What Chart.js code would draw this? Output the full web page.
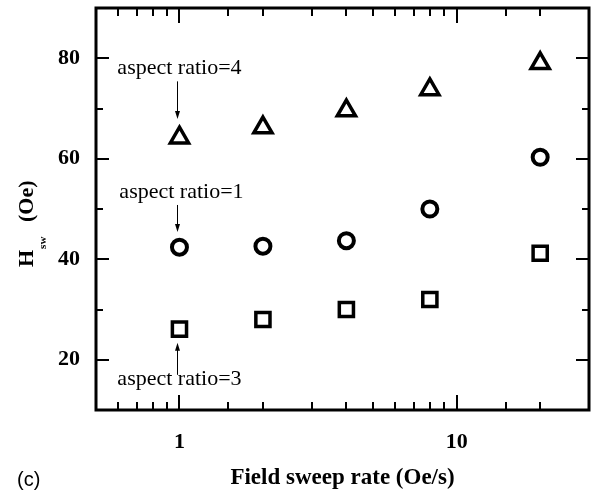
<!DOCTYPE html>
<html>
<head>
<meta charset="utf-8">
<script src="https://cdn.jsdelivr.net/npm/chart.js@4.4.1/dist/chart.umd.min.js"></script>
<style>
  html, body { margin: 0; padding: 0; background: #fff; }
  canvas { display: block; }
</style>
</head>
<body>
<canvas id="chart" width="594" height="491"></canvas>
<script>
// Field sweep rate (Oe/s)
const sweepRates = [1, 2, 4, 8, 20];
// Switching field H_sw (Oe) for each dot shape
const hswRatio4 = [64.2, 66.2, 69.6, 73.8, 79.0];
const hswRatio1 = [42.4, 42.6, 43.7, 50.0, 60.3];
const hswRatio3 = [26.1, 28.0, 30.0, 32.0, 41.2];
const seriesNames = ['aspect ratio=4', 'aspect ratio=1', 'aspect ratio=3'];
const xTickLabels = [1, 10];
const yTickLabels = [20, 40, 60, 80];

const SERIF = '"Liberation Serif", "Times New Roman", Times, serif';
const SANS = '"Liberation Sans", Arial, Helvetica, sans-serif';

const toPoints = ys => sweepRates.map((x, i) => ({ x: x, y: ys[i] }));
const near = (a, b) => Math.abs(a - b) < 1e-9;
const isDecade = v => near(Math.log10(v), Math.round(Math.log10(v)));

// Frame with inward ticks, callouts with arrows, axis titles, panel tag
const decorations = {
  id: 'decorations',
  afterDraw(chart) {
    const ctx = chart.ctx;
    const a = chart.chartArea;
    const xs = chart.scales.x;
    const ys = chart.scales.y;
    ctx.save();
    ctx.strokeStyle = '#000';
    ctx.fillStyle = '#000';
    ctx.lineCap = 'butt';

    const line = (x1, y1, x2, y2) => {
      ctx.beginPath(); ctx.moveTo(x1, y1); ctx.lineTo(x2, y2); ctx.stroke();
    };

    // x ticks, bottom and top
    ctx.lineWidth = 2;
    xs.ticks.forEach(t => {
      const px = Math.round(xs.getPixelForValue(t.value));
      if (px <= a.left + 2 || px >= a.right - 2) return;
      const len = isDecade(t.value) ? 15 : 8;
      line(px, a.bottom, px, a.bottom - len);
      line(px, a.top, px, a.top + len);
    });
    // y ticks, left and right
    ys.ticks.forEach(t => {
      const py = Math.round(ys.getPixelForValue(t.value));
      if (py <= a.top + 2 || py >= a.bottom - 2) return;
      const len = yTickLabels.includes(t.value) ? 13 : 7;
      line(a.left, py, a.left + len, py);
      line(a.right, py, a.right - len, py);
    });

    // frame
    ctx.lineWidth = 3;
    ctx.strokeRect(a.left, a.top, a.right - a.left, a.bottom - a.top);

    // callouts at the 1 Oe/s column: [text baseline, arrow tail, arrow head] in Oe
    const callouts = [
      [76.9, 75.4, 67.9],
      [52.2, 50.8, 45.4],
      [15.0, 17.0, 23.4]
    ];
    const cx = xs.getPixelForValue(1);
    ctx.font = '22px ' + SERIF;
    ctx.textAlign = 'center';
    ctx.textBaseline = 'alphabetic';
    callouts.forEach((c, i) => {
      ctx.fillText(seriesNames[i], cx + (i === 1 ? 2 : 0), ys.getPixelForValue(c[0]));
      const y1 = ys.getPixelForValue(c[1]);
      const y2 = ys.getPixelForValue(c[2]);
      const dir = Math.sign(y2 - y1);
      const ax = Math.round(cx) - 1.5;
      ctx.lineWidth = 1;
      line(ax, y1, ax, y2 - dir * 5);
      ctx.beginPath();
      ctx.moveTo(ax, y2);
      ctx.lineTo(ax - 2.5, y2 - dir * 8);
      ctx.lineTo(ax + 2.5, y2 - dir * 8);
      ctx.closePath();
      ctx.fill();
    });

    // x-axis title
    ctx.font = 'bold 23px ' + SERIF;
    ctx.textAlign = 'center';
    ctx.fillText('Field sweep rate (Oe/s)', (a.left + a.right) / 2, 484);

    // y-axis title: H_sw (Oe), rotated
    ctx.save();
    ctx.translate(a.left - 63, a.bottom - 143);
    ctx.rotate(-Math.PI / 2);
    ctx.textAlign = 'left';
    ctx.textBaseline = 'alphabetic';
    ctx.font = 'bold 22px ' + SERIF;
    ctx.fillText('H', 0, 0);
    const wH = ctx.measureText('H').width;
    ctx.font = 'bold 11px ' + SERIF;
    ctx.fillText('sw', wH + 1, 13);
    ctx.font = 'bold 22px ' + SERIF;
    ctx.fillText('(Oe)', 45, 0);
    ctx.restore();

    // panel tag
    ctx.font = '20px ' + SANS;
    ctx.textAlign = 'left';
    ctx.fillText('(c)', 17, 486);

    ctx.restore();
  }
};

const markerBase = { showLine: false, borderColor: '#000', backgroundColor: 'rgba(255,255,255,0)' };

new Chart(document.getElementById('chart'), {
  type: 'scatter',
  data: {
    datasets: [
      Object.assign({ label: seriesNames[0], data: toPoints(hswRatio4), pointStyle: 'triangle', pointRadius: 10.5, borderWidth: 3.5 }, markerBase),
      Object.assign({ label: seriesNames[1], data: toPoints(hswRatio1), pointStyle: 'circle', pointRadius: 7.5, borderWidth: 4 }, markerBase),
      Object.assign({ label: seriesNames[2], data: toPoints(hswRatio3), pointStyle: 'rect', pointRadius: 10, borderWidth: 3.5 }, markerBase)
    ]
  },
  options: {
    responsive: false,
    animation: false,
    devicePixelRatio: 1,
    layout: { autoPadding: false, padding: { top: 8, right: 5, left: 0, bottom: 0 } },
    plugins: { legend: { display: false }, tooltip: { enabled: false } },
    scales: {
      x: {
        type: 'logarithmic',
        min: 0.5,
        max: 30,
        grid: { display: false, drawTicks: false },
        border: { display: false },
        ticks: {
          autoSkip: false,
          maxRotation: 0,
          padding: 19,
          color: '#000',
          font: { family: SERIF, size: 22, weight: 'bold' },
          callback: v => xTickLabels.some(t => near(t, v)) ? String(v) : ''
        },
        afterFit: s => {
          s.height = 81;
          s.paddingLeft = 0;
          s.paddingRight = 0;
        }
      },
      y: {
        min: 10,
        max: 90,
        grid: { display: false, drawTicks: false },
        border: { display: false },
        ticks: {
          stepSize: 10,
          padding: 16,
          color: '#000',
          font: { family: SERIF, size: 22, weight: 'bold' },
          callback: v => yTickLabels.includes(v) ? String(v) : ''
        },
        afterFit: s => {
          s.width = 96;
          s.paddingTop = 0;
          s.paddingBottom = 0;
        }
      }
    }
  },
  plugins: [decorations]
});
</script>
</body>
</html>
